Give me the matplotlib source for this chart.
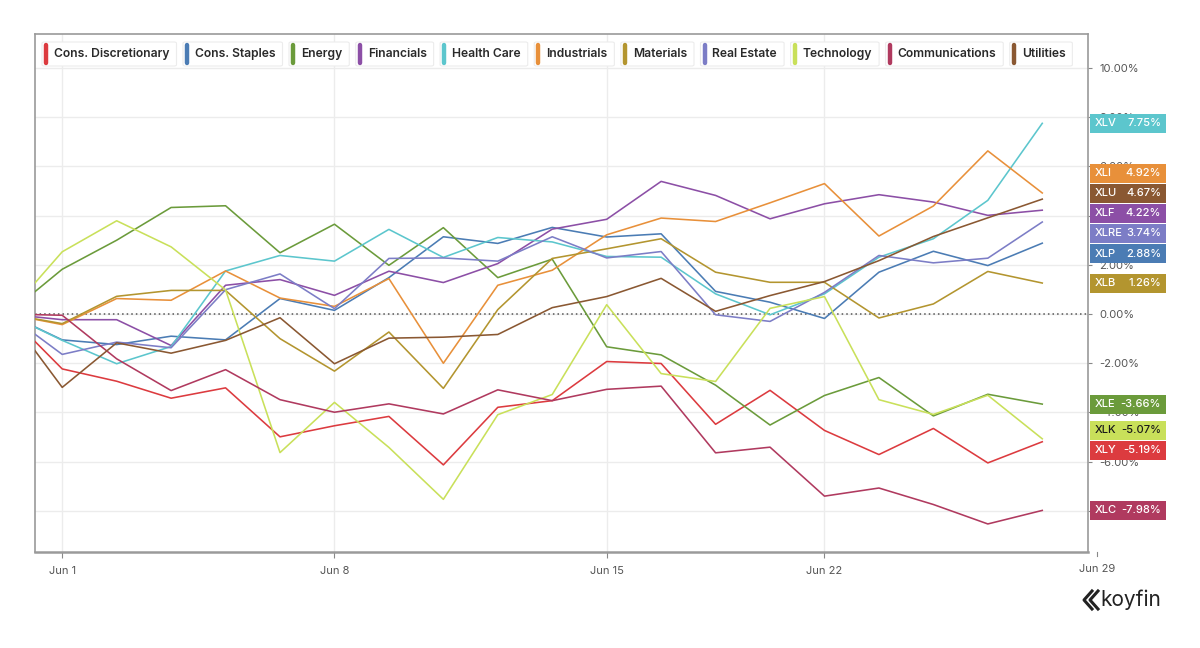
import matplotlib
matplotlib.use('Agg')
import matplotlib.pyplot as plt
from matplotlib.patches import FancyBboxPatch, Rectangle
from matplotlib.lines import Line2D
from matplotlib.ticker import FuncFormatter
from matplotlib.transforms import blended_transform_factory

# trading days, June 2022 (base = May 31 close)
dates = ['May 31', 'Jun 1', 'Jun 2', 'Jun 3', 'Jun 6', 'Jun 7', 'Jun 8', 'Jun 9',
         'Jun 10', 'Jun 13', 'Jun 14', 'Jun 15', 'Jun 16', 'Jun 17', 'Jun 21',
         'Jun 22', 'Jun 23', 'Jun 24', 'Jun 27', 'Jun 28']
tick_dates = ['Jun 1', 'Jun 8', 'Jun 15', 'Jun 22']
next_tick = 'Jun 29'

names = ['Cons. Discretionary', 'Cons. Staples', 'Energy', 'Financials', 'Health Care',
         'Industrials', 'Materials', 'Real Estate', 'Technology', 'Communications', 'Utilities']
tickers = ['XLY', 'XLP', 'XLE', 'XLF', 'XLV', 'XLI', 'XLB', 'XLRE', 'XLK', 'XLC', 'XLU']
colors = ['#dc3b3f', '#4b7cb4', '#6b9b3b', '#8c4fa6', '#5cc6cd', '#e8903a',
          '#b3952f', '#7c7dc6', '#c9e05a', '#b03a5f', '#8a5832']

# % change vs base
xly = [0, -2.23, -2.73, -3.42, -3.00, -4.99, -4.54, -4.16, -6.13, -3.79, -3.52,
       -1.93, -2.01, -4.48, -3.10, -4.73, -5.71, -4.65, -6.05, -5.19]
xlp = [0, -1.05, -1.24, -0.90, -1.05, 0.63, 0.15, 1.48, 3.14, 2.87, 3.52,
       3.13, 3.26, 0.92, 0.48, -0.18, 1.70, 2.55, 1.97, 2.88]
xle = [0, 1.82, 3.00, 4.33, 4.40, 2.49, 3.65, 1.98, 3.51, 1.48, 2.23,
       -1.33, -1.66, -2.89, -4.51, -3.31, -2.58, -4.14, -3.26, -3.66]
xlf = [0, -0.23, -0.23, -1.28, 1.17, 1.40, 0.76, 1.74, 1.28, 2.05, 3.45,
       3.85, 5.39, 4.82, 3.87, 4.48, 4.85, 4.55, 4.01, 4.22]
xlv = [0, -1.07, -2.02, -1.32, 1.75, 2.38, 2.15, 3.44, 2.30, 3.11, 2.93,
       2.34, 2.31, 0.82, -0.03, 0.82, 2.31, 3.06, 4.62, 7.75]
xli = [0, -0.43, 0.63, 0.56, 1.75, 0.65, 0.31, 1.44, -2.00, 1.17, 1.78,
       3.22, 3.90, 3.76, 4.52, 5.30, 3.17, 4.39, 6.63, 4.92]
xlb = [0, -0.39, 0.72, 0.96, 0.96, -1.00, -2.32, -0.73, -3.02, 0.18, 2.26,
       2.65, 3.06, 1.70, 1.29, 1.29, -0.16, 0.41, 1.73, 1.26]
xlre = [0, -1.64, -1.14, -1.37, 0.99, 1.63, 0.22, 2.26, 2.28, 2.15, 3.14,
        2.28, 2.54, -0.03, -0.30, 0.88, 2.38, 2.08, 2.27, 3.74]
xlk = [0, 2.53, 3.79, 2.73, 0.98, -5.63, -3.59, -5.42, -7.53, -4.09, -3.27,
       0.38, -2.42, -2.74, 0.23, 0.71, -3.48, -4.08, -3.30, -5.07]
xlc = [0, -0.05, -1.82, -3.11, -2.26, -3.48, -3.99, -3.65, -4.06, -3.08, -3.52,
       -3.06, -2.93, -5.64, -5.41, -7.40, -7.07, -7.74, -8.53, -7.98]
xlu = [0, -2.98, -1.17, -1.59, -1.07, -0.15, -2.02, -0.98, -0.94, -0.83, 0.26,
       0.71, 1.45, 0.11, 0.75, 1.32, 2.17, 3.15, 3.91, 4.67]

series = [xly, xlp, xle, xlf, xlv, xli, xlb, xlre, xlk, xlc, xlu]

plt.rcParams['font.family'] = ['Inter', 'DejaVu Sans']

W, H = 1200, 648
def fx(px):
    return px / W
def fy(py):
    return 1 - py / H

fig = plt.figure(figsize=(W / 100, H / 100), dpi=100)
ax = fig.add_axes([fx(35), fy(552), fx(1088) - fx(35), fy(34) - fy(552)])

x = list(range(len(dates)))
for vals, c in zip(series, colors):
    ax.plot(x, vals, color=c, lw=1.15, zorder=3)

ax.axhline(0, color='#555555', lw=1.1, ls=(0, (1, 2)), zorder=2)

ax.set_xlim(0.5, 19.84)
ax.set_ylim(-9.67, 11.38)

ax.set_xticks([dates.index(d) for d in tick_dates])
ax.set_xticklabels(tick_dates)
ax.set_yticks(range(-8, 11, 2))
ax.yaxis.set_major_formatter(FuncFormatter(lambda v, p: f'{v:.2f}%'))
ax.yaxis.tick_right()
ax.grid(True, color='#ececec', lw=1, zorder=0)
ax.set_axisbelow(True)

ax.tick_params(axis='x', length=4, color='#888888', labelsize=8, labelcolor='#555555', pad=6)
ax.tick_params(axis='y', length=3, color='#888888', labelsize=8, labelcolor='#555555', pad=5)
for s in ax.spines.values():
    s.set_color('#9a9a9a')
    s.set_linewidth(1.2)
ax.spines['bottom'].set_linewidth(1.8)

# Jun 29 tick sits past the right edge
bt = blended_transform_factory(ax.transData, ax.transAxes)
ax.plot([len(dates), len(dates)], [0, -0.008], transform=bt, color='#888888', lw=0.8, clip_on=False)
ax.text(len(dates), -0.023, next_tick, transform=bt, ha='center', va='top',
        fontsize=8, color='#555555', clip_on=False)

# legend row
renderer = fig.canvas.get_renderer()
lx = 46
for name, c in zip(names, colors):
    t = fig.text(fx(lx + 8), fy(54), name, fontsize=8.7, fontweight='semibold',
                 color='#2a2a2a', va='center', ha='left', zorder=6)
    w = t.get_window_extent(renderer).width
    box = FancyBboxPatch((fx(lx - 4), fy(66)), fx(w + 19), 24 / H,
                         boxstyle='round,pad=0,rounding_size=0.002',
                         facecolor='white', edgecolor='#ececec', lw=0.8, zorder=4)
    fig.add_artist(box)
    fig.add_artist(Line2D([fx(lx), fx(lx)], [fy(45), fy(63)], color=c, lw=3.2,
                          solid_capstyle='round', zorder=5))
    lx += 8 + w + 17.5

# end-value tags on the right, spread so they don't overlap
def spread(values, gap):
    order = sorted(range(len(values)), key=lambda k: -values[k])
    groups = []
    for k in order:
        groups.append([[k], values[k]])
        while len(groups) > 1:
            g1, g2 = groups[-2], groups[-1]
            bottom1 = g1[1] - (len(g1[0]) - 1) * gap
            if bottom1 - g2[1] < gap:
                members = g1[0] + g2[0]
                mean = sum(values[m] for m in members) / len(members)
                groups[-2:] = [[members, mean + (len(members) - 1) * gap / 2]]
            else:
                break
    pos = {}
    for members, top in groups:
        for j, m in enumerate(members):
            pos[m] = top - j * gap
    return pos

last = [s[-1] for s in series]
gap = 20 / 24.6
tag_y = spread(last, gap)
tt = blended_transform_factory(fig.transFigure, ax.transData)
for k, (tk, c) in enumerate(zip(tickers, colors)):
    yv = tag_y[k]
    fig.add_artist(Rectangle((fx(1090), yv - gap / 2 + 0.02), fx(1166) - fx(1090), gap - 0.04,
                             transform=tt, facecolor=c, edgecolor='none', zorder=7))
    tc = '#1a1a1a' if tk == 'XLK' else 'white'
    fig.text(fx(1095), yv, tk, transform=tt, ha='left', va='center', fontsize=8,
             fontweight='medium', color=tc, zorder=8)
    fig.text(fx(1161), yv, f'{last[k]:.2f}%', transform=tt, ha='right', va='center',
             fontsize=8, fontweight='medium', color=tc, zorder=8)

# koyfin mark
for dx in (0, 6):
    fig.add_artist(Line2D([fx(1092 + dx), fx(1084 + dx), fx(1092 + dx)],
                          [fy(591), fy(600), fy(609)], color='#222222', lw=2.2))
fig.text(fx(1100), fy(600), 'koyfin', fontsize=15, color='#222222', va='center', ha='left')

fig.savefig('out.png', dpi=100, facecolor='white')
